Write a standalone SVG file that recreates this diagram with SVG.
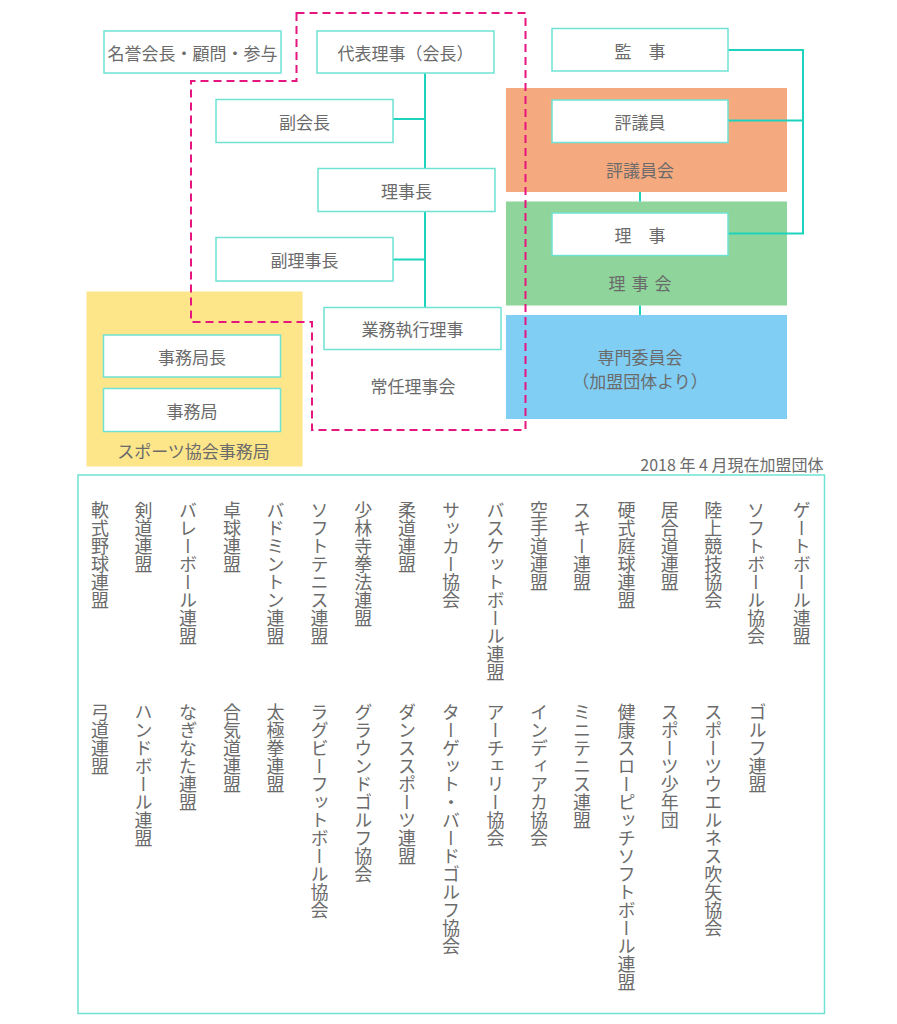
<svg xmlns="http://www.w3.org/2000/svg" width="897" height="1024" viewBox="0 0 897 1024">
<style>
text{font-family:"Noto Sans CJK JP","Noto Sans",sans-serif;fill:#6b6b6b;font-weight:400}
.lbl{font-size:17px;text-anchor:middle;dominant-baseline:central}
.box{fill:#fff;stroke:#6fe2d2;stroke-width:1.5}
.con{fill:none;stroke:#1ed3bd;stroke-width:2}
.vt{font-size:18px;writing-mode:vertical-rl}
</style>
<rect width="897" height="1024" fill="#fff"/>
<g id="panels">
<rect id="jimukyoku-panel" x="86.5" y="291.5" width="216" height="175" fill="#fde68a"/>
<rect id="hyogiinkai-panel" x="506" y="88" width="281" height="104" fill="#f5a97f"/>
<rect id="rijikai-panel" x="506" y="201.5" width="281" height="104" fill="#8ed49b"/>
<rect id="senmon-panel" x="506" y="315" width="281" height="104" fill="#80cef4"/>
</g>
<g id="connectors">
<path class="con" d="M425,73 V307.5 M393,119 H425 M393,259.5 H425"/>
<path class="con" d="M728,50 H803 V233.5 H728 M728,120.5 H803"/>
<path class="con" d="M640,192 V201.5 M640,305.5 V315"/>
</g>
<path id="joninrijikai-outline" d="M296.5,13 H525.5 V430 H312 V322 H191 V81 H296.5 Z" fill="none" stroke="#e6157f" stroke-width="2" stroke-dasharray="8 5"/>
<g id="meiyo"><rect class="box" x="104" y="31" width="177" height="42"/><text class="lbl" x="192.5" y="52">名誉会長・顧問・参与</text></g>
<g id="daihyo"><rect class="box" x="317" y="31" width="177" height="42"/><text class="lbl" x="405.5" y="52">代表理事（会長）</text></g>
<g id="fukukaicho"><rect class="box" x="216" y="99.5" width="177" height="43"/><text class="lbl" x="304.5" y="121">副会長</text></g>
<g id="rijicho"><rect class="box" x="318" y="168.5" width="177" height="43"/><text class="lbl" x="406.5" y="190">理事長</text></g>
<g id="fukurijicho"><rect class="box" x="216" y="237.5" width="177" height="43.5"/><text class="lbl" x="304.5" y="259">副理事長</text></g>
<g id="gyomu"><rect class="box" x="324" y="307.5" width="177" height="42"/><text class="lbl" x="412.5" y="328.5">業務執行理事</text></g>
<g id="joninrijikai"><text class="lbl" x="413" y="385">常任理事会</text></g>
<g id="jimukyokucho"><rect class="box" x="103.5" y="335" width="177" height="42"/><text class="lbl" x="192" y="356">事務局長</text></g>
<g id="jimukyoku"><rect class="box" x="103.5" y="388.5" width="177" height="43"/><text class="lbl" x="192" y="410">事務局</text></g>
<g id="sports-jimukyoku"><text class="lbl" x="193.5" y="450.5">スポーツ協会事務局</text></g>
<g id="kanji"><rect class="box" x="552" y="28.5" width="176" height="42.5"/><text class="lbl" x="640" y="50">監　事</text></g>
<g id="hyogiin"><rect class="box" x="552" y="100" width="176" height="42.5"/><text class="lbl" x="640" y="121">評議員</text></g>
<g id="hyogiinkai"><text class="lbl" x="640" y="169">評議員会</text></g>
<g id="riji"><rect class="box" x="552" y="213" width="176" height="42.5"/><text class="lbl" x="640" y="234">理　事</text></g>
<g id="rijikai"><text class="lbl" x="617 640 663" y="282">理事会</text></g>
<g id="senmon"><text class="lbl" x="640" y="356.5">専門委員会</text><text class="lbl" x="640" y="380">（加盟団体より）</text></g>
<g id="members">
<text x="823.5" y="463.5" font-size="16" text-anchor="end" dominant-baseline="central">2018 年 4 月現在加盟団体</text>
<rect x="78" y="475" width="746.5" height="538.5" fill="none" stroke="#6fe2d2" stroke-width="1.5"/>
<g id="row1">
<text class="vt" x="100" y="501.5">軟式野球連盟</text>
<text class="vt" x="143.5" y="501.5">剣道連盟</text>
<text class="vt" x="188" y="501.5">バレーボール連盟</text>
<text class="vt" x="232" y="501.5">卓球連盟</text>
<text class="vt" x="275.5" y="501.5">バドミントン連盟</text>
<text class="vt" x="319.5" y="501.5">ソフトテニス連盟</text>
<text class="vt" x="363.3" y="501.5">少林寺拳法連盟</text>
<text class="vt" x="407" y="501.5">柔道連盟</text>
<text class="vt" x="451" y="501.5">サッカー協会</text>
<text class="vt" x="495.5" y="501.5">バスケットボール連盟</text>
<text class="vt" x="539" y="501.5">空手道連盟</text>
<text class="vt" x="582" y="501.5">スキー連盟</text>
<text class="vt" x="626.5" y="501.5">硬式庭球連盟</text>
<text class="vt" x="669.8" y="501.5">居合道連盟</text>
<text class="vt" x="713.3" y="501.5">陸上競技協会</text>
<text class="vt" x="756" y="501.5">ソフトボール協会</text>
<text class="vt" x="801.7" y="501.5">ゲートボール連盟</text>
</g>
<g id="row2">
<text class="vt" x="100" y="703">弓道連盟</text>
<text class="vt" x="143.5" y="703">ハンドボール連盟</text>
<text class="vt" x="188" y="703">なぎなた連盟</text>
<text class="vt" x="232" y="703">合気道連盟</text>
<text class="vt" x="275.5" y="703">太極拳連盟</text>
<text class="vt" x="319.5" y="703">ラグビーフットボール協会</text>
<text class="vt" x="363.3" y="703">グラウンドゴルフ協会</text>
<text class="vt" x="407" y="703">ダンススポーツ連盟</text>
<text class="vt" x="451" y="703">ターゲット・バードゴルフ協会</text>
<text class="vt" x="495.5" y="703">アーチェリー協会</text>
<text class="vt" x="539" y="703">インディアカ協会</text>
<text class="vt" x="582" y="703">ミニテニス連盟</text>
<text class="vt" x="626.5" y="703">健康スローピッチソフトボール連盟</text>
<text class="vt" x="669.8" y="703">スポーツ少年団</text>
<text class="vt" x="713.3" y="703">スポーツウエルネス吹矢協会</text>
<text class="vt" x="757.5" y="703">ゴルフ連盟</text>
</g>
</g>
</svg>
